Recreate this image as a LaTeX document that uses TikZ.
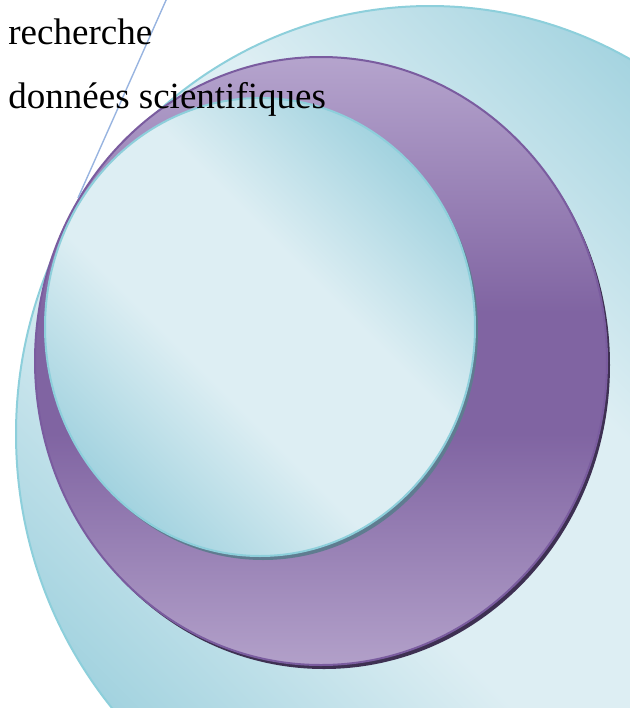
\documentclass[tikz,border=0pt]{standalone}
\usepackage{fontspec}
\setmainfont{Liberation Serif}
\usetikzlibrary{positioning}
\definecolor{discdark}{HTML}{9FD1DE}
\definecolor{disclight}{HTML}{DDEEF3}
\definecolor{discrim}{HTML}{8DCFDB}
\definecolor{ringtop}{HTML}{B5A4CD}
\definecolor{ringmid}{HTML}{8064A2}
\definecolor{ringbot}{HTML}{B2A0C9}
\definecolor{ringrim}{HTML}{7A5C9F}
\definecolor{ringshade}{HTML}{3E3052}
\definecolor{holeshade}{HTML}{5F7C90}
\definecolor{pointer}{HTML}{98B4E0}
\pgfdeclarehorizontalshading{discshading}{100bp}{color(0bp)=(discdark); color(24bp)=(discdark);
  color(42bp)=(disclight); color(58bp)=(disclight); color(76bp)=(discdark); color(100bp)=(discdark)}
\pgfdeclareverticalshading{ringshading}{100bp}{color(0bp)=(ringbot); color(25bp)=(ringbot);
  color(44bp)=(ringmid); color(54bp)=(ringmid); color(75bp)=(ringtop); color(100bp)=(ringtop)}
\tikzset{
  bluedisc/.style ={shading=discshading, shading angle=45, draw=discrim, line width=1pt},
  ringdisc/.style ={shading=ringshading, draw=ringrim, line width=1pt},
  flabel/.style   ={anchor=base west, inner sep=0pt, font=\fontsize{18.5}{22}\selectfont},
  fpoint/.style   ={pointer, line width=0.7pt},
}

\begin{document}
\begin{tikzpicture}[x=0.5pt,y=-0.5pt]
\useasboundingbox (0,0) rectangle (630,708);
\clip (0,0) rectangle (630,708);
% large disc
\shade[bluedisc] (430,434) ellipse [x radius=414, y radius=428];
% ring
\fill[ringshade] (324,365) ellipse [x radius=286, y radius=304];
\shade[ringdisc] (321,361) ellipse [x radius=286, y radius=304];
% hole
\fill[holeshade] (263,331) ellipse [x radius=215, y radius=229];
\shade[bluedisc] (260,327) ellipse [x radius=215, y radius=229];

\coordinate (top) at (167,-2);
\coordinate (touch) at (78,198);
\draw[fpoint] (top) -- (touch);

\node[flabel] (rech) at (8,44) {recherche};
\node[flabel] (data) at (8,108) {données scientifiques};
\end{tikzpicture}
\end{document}
